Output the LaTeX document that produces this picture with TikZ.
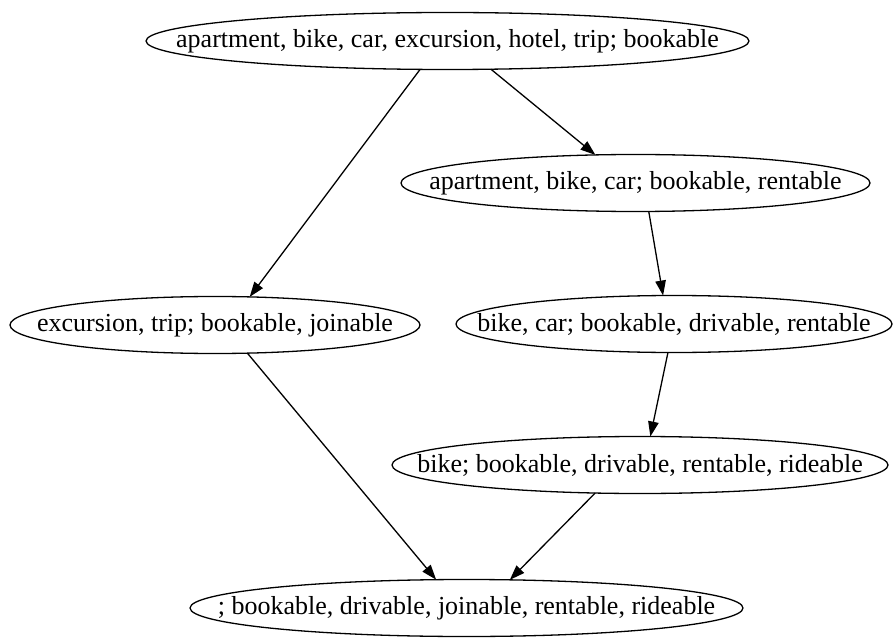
\documentclass[tikz,border=0pt]{standalone}
\usepackage{fontspec}
\setmainfont{Liberation Serif}
\usetikzlibrary{shapes.geometric,arrows.meta}

% the ellipse size is given explicitly; the label is set in a zero-width box
\newcommand{\lbl}[1]{\makebox[0pt]{#1}}

\tikzset{
  setnode/.style={ellipse, draw, line width=1.3pt, inner sep=0pt, outer sep=0pt,
    minimum height=57pt, font=\fontsize{26}{30}\selectfont},
  edge/.style={line width=1.3pt, -{Triangle[length=15pt,width=10.5pt]}}
}

\begin{document}
\begin{tikzpicture}[x=1pt,y=1pt]
  \useasboundingbox (0,0) rectangle (894,641);

  % concept lattice nodes
  \node[setnode, minimum width=603pt] (top) at (447.5,600)
    {\lbl{apartment, bike, car, excursion, hotel, trip; bookable}};
  \node[setnode, minimum width=469pt] (rent) at (635.5,458)
    {\lbl{apartment, bike, car; bookable, rentable}};
  \node[setnode, minimum width=410pt] (join) at (215,316)
    {\lbl{excursion, trip; bookable, joinable}};
  \node[setnode, minimum width=436pt] (drive) at (674,317)
    {\lbl{bike, car; bookable, drivable, rentable}};
  \node[setnode, minimum width=496pt] (ride) at (640,176)
    {\lbl{bike; bookable, drivable, rentable, rideable}};
  \node[setnode, minimum width=553pt] (bottom) at (466.5,33)
    {\lbl{; bookable, drivable, joinable, rentable, rideable}};

  % edges
  \draw[edge] (top.226.5) -- (join.39.6);
  \draw[edge] (top.-33.4) -- (rent.145.3);
  \draw[edge] (rent.-65.9) -- (drive.111.4);
  \draw[edge] (drive.-102.1) -- (ride.70.3);
  \draw[edge] (join.-41.1) -- (bottom.137.4);
  \draw[edge] (ride.212.1) -- (bottom.33.0);
\end{tikzpicture}
\end{document}
